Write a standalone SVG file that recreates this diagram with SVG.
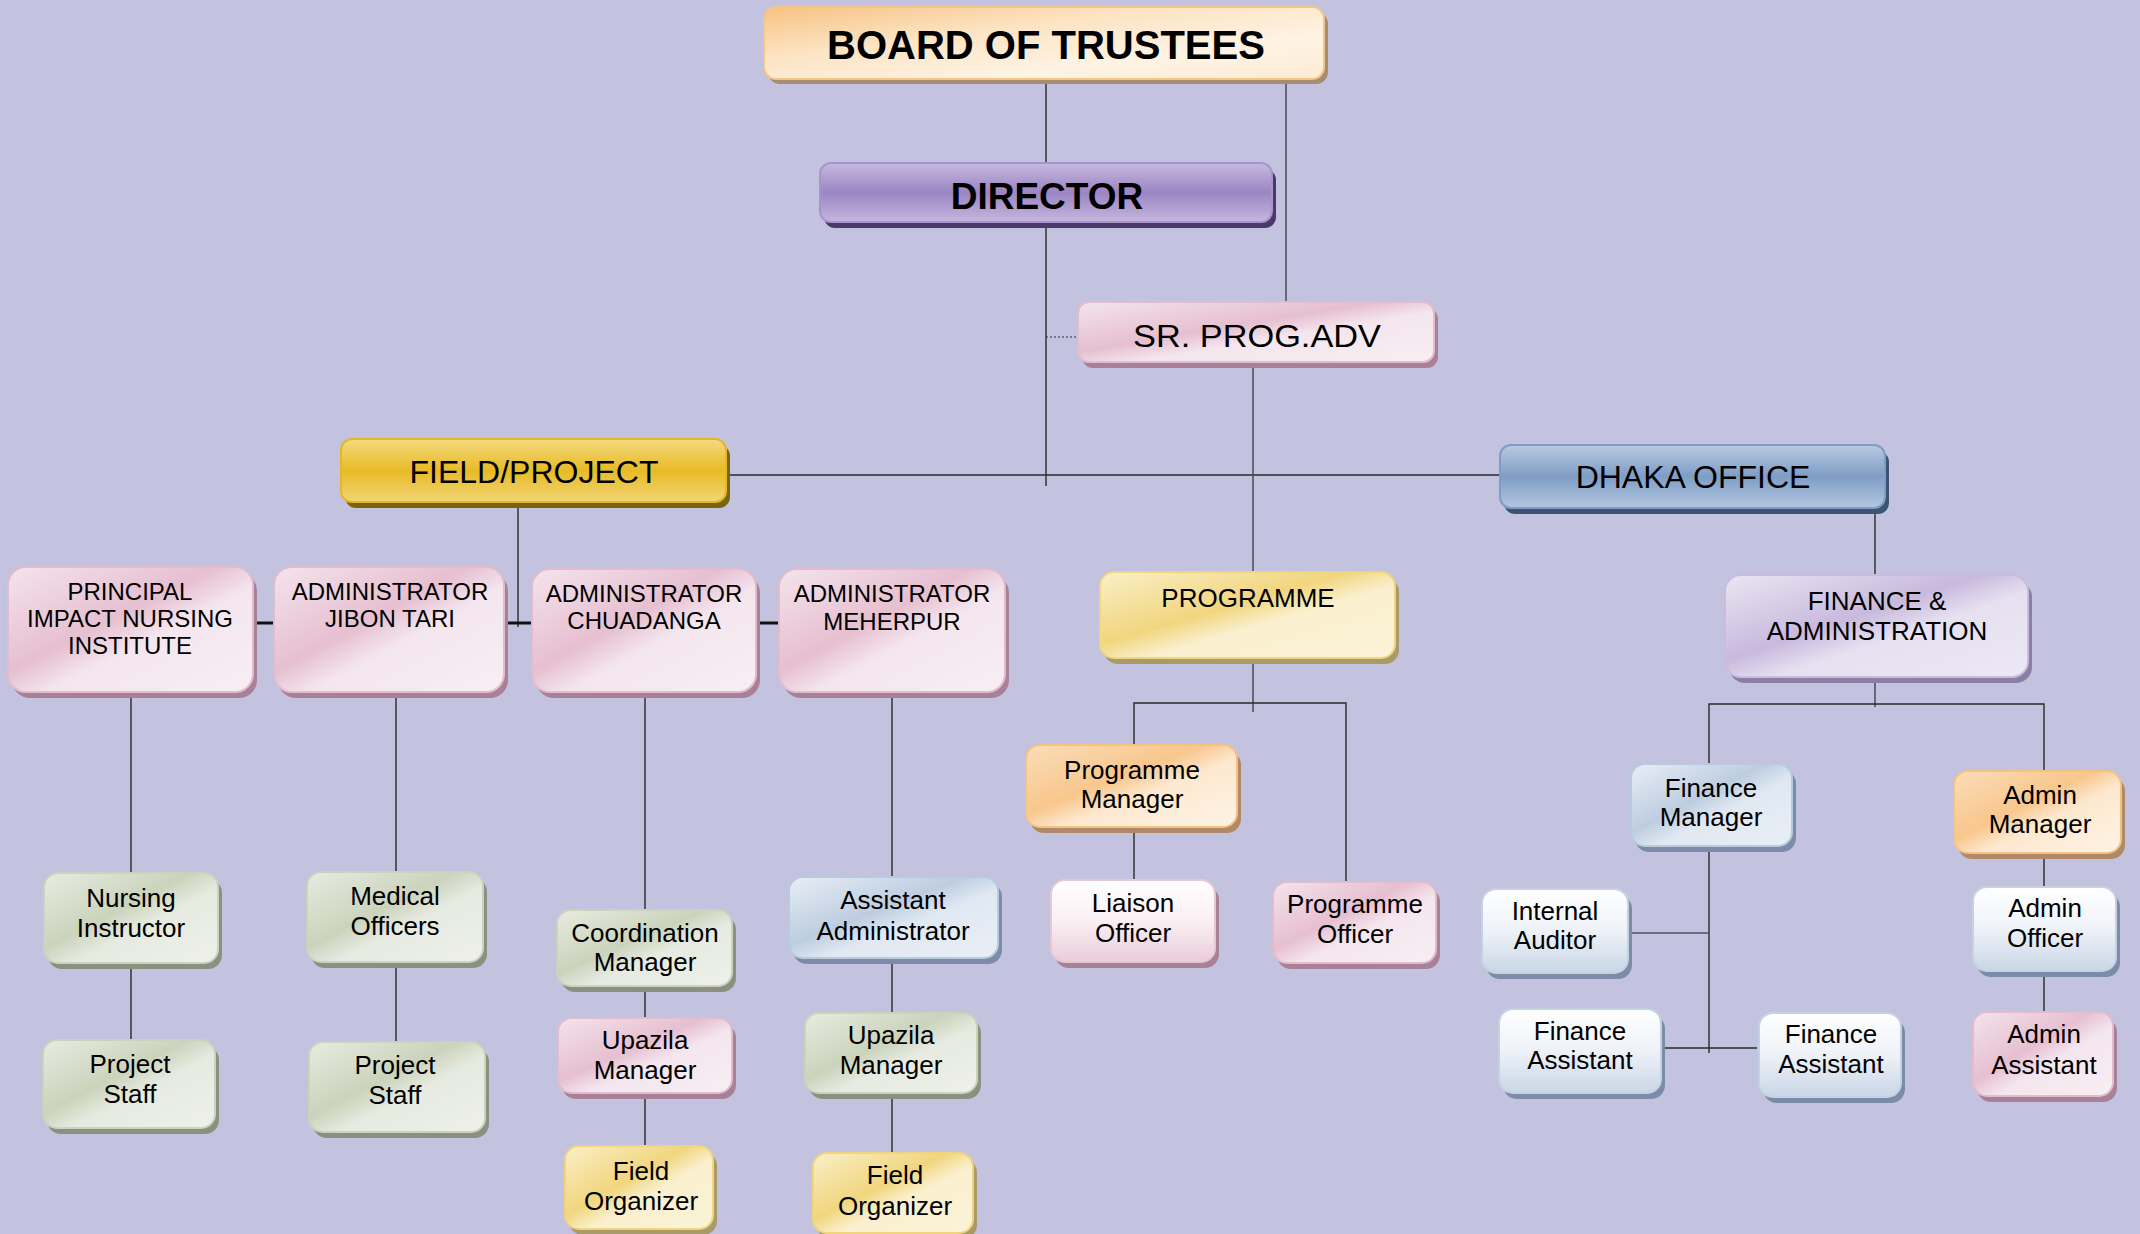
<svg xmlns="http://www.w3.org/2000/svg" width="2140" height="1234" viewBox="0 0 2140 1234">
<defs>
<linearGradient id="gBoard" x1="0" y1="0" x2="1" y2="1"><stop offset="0" stop-color="#F6C283"/><stop offset="0.35" stop-color="#FCE3C2"/><stop offset="0.7" stop-color="#FEF3E4"/><stop offset="1" stop-color="#FDEBD4"/></linearGradient>
<linearGradient id="gDir" x1="0" y1="0" x2="0" y2="1"><stop offset="0" stop-color="#C8B9DF"/><stop offset="0.5" stop-color="#9B85C3"/><stop offset="1" stop-color="#C6B6DE"/></linearGradient>
<linearGradient id="gField" x1="0" y1="0" x2="0" y2="1"><stop offset="0" stop-color="#F3DA80"/><stop offset="0.5" stop-color="#E8BA25"/><stop offset="1" stop-color="#F2D676"/></linearGradient>
<linearGradient id="gDhaka" x1="0" y1="0" x2="0" y2="1"><stop offset="0" stop-color="#B8CAE1"/><stop offset="0.5" stop-color="#7F9DC5"/><stop offset="1" stop-color="#B4C7E0"/></linearGradient>
<linearGradient id="gPink" x1="0" y1="0" x2="1" y2="1"><stop offset="0" stop-color="#F4E4EC"/><stop offset="0.42" stop-color="#E6BFD0"/><stop offset="0.58" stop-color="#F4E6EE"/><stop offset="1" stop-color="#F7EEF3"/></linearGradient>
<linearGradient id="gGreen" x1="0" y1="0" x2="1" y2="1"><stop offset="0" stop-color="#E8ECE0"/><stop offset="0.42" stop-color="#CBD3BC"/><stop offset="0.58" stop-color="#E6EAE0"/><stop offset="1" stop-color="#EFF1EA"/></linearGradient>
<linearGradient id="gBlue" x1="0" y1="0" x2="1" y2="1"><stop offset="0" stop-color="#E8EEF6"/><stop offset="0.42" stop-color="#BDCDE0"/><stop offset="0.58" stop-color="#E0E8F2"/><stop offset="1" stop-color="#E9EFF6"/></linearGradient>
<linearGradient id="gOrange" x1="0" y1="0" x2="1" y2="1"><stop offset="0" stop-color="#FBDDB8"/><stop offset="0.42" stop-color="#F8C78C"/><stop offset="0.58" stop-color="#FDE8CF"/><stop offset="1" stop-color="#FEF3E6"/></linearGradient>
<linearGradient id="gYellow" x1="0" y1="0" x2="1" y2="1"><stop offset="0" stop-color="#FAEFC8"/><stop offset="0.42" stop-color="#F1D67E"/><stop offset="0.58" stop-color="#FAF0CF"/><stop offset="1" stop-color="#FBF3D8"/></linearGradient>
<linearGradient id="gLav" x1="0" y1="0" x2="1" y2="1"><stop offset="0" stop-color="#EAE6F3"/><stop offset="0.42" stop-color="#C9B9DD"/><stop offset="0.58" stop-color="#E6E0F0"/><stop offset="1" stop-color="#ECE8F4"/></linearGradient>
<linearGradient id="gWPink" x1="0" y1="0" x2="0" y2="1"><stop offset="0" stop-color="#FFFFFF"/><stop offset="0.5" stop-color="#FAF0F4"/><stop offset="1" stop-color="#EACCD8"/></linearGradient>
<linearGradient id="gWBlue" x1="0" y1="0" x2="0" y2="1"><stop offset="0" stop-color="#FFFFFF"/><stop offset="0.5" stop-color="#EEF2F8"/><stop offset="1" stop-color="#C8D6E6"/></linearGradient>
</defs>
<style>
text{font-family:"Liberation Sans",Arial,sans-serif;fill:#000;text-anchor:middle}
.t40{font-size:40px;font-weight:bold}
.t37{font-size:37px;font-weight:bold}
.t32{font-size:32px}
.t24{font-size:24px}
.t26{font-size:26px}
.ln{stroke:#2a2a2a;stroke-width:1.4;fill:none}
.lg{stroke:#505060;stroke-width:1.6;fill:none}
.lt{stroke:#111;stroke-width:3;fill:none}
.dot{stroke:#333;stroke-width:1.2;stroke-dasharray:2 2;fill:none}
.board{fill:url(#gBoard);stroke:#F5C487;stroke-width:2}
.sboard{fill:#A88C70}
.dir{fill:url(#gDir);stroke:#A894CC;stroke-width:2}
.sdir{fill:#4A3A6C}
.field{fill:url(#gField);stroke:#E4B820;stroke-width:2}
.sfield{fill:#7A6412}
.dhaka{fill:url(#gDhaka);stroke:#7E9CC4;stroke-width:2}
.sdhaka{fill:#3C5474}
.pink{fill:url(#gPink);stroke:#E2BCCC;stroke-width:2}
.spink{fill:#A88098}
.green{fill:url(#gGreen);stroke:#CBD3BE;stroke-width:2}
.sgreen{fill:#8C9080}
.blue{fill:url(#gBlue);stroke:#B8CADE;stroke-width:2}
.sblue{fill:#7C8CA8}
.orange{fill:url(#gOrange);stroke:#F6C184;stroke-width:2}
.sorange{fill:#B08A68}
.yellow{fill:url(#gYellow);stroke:#F0D57C;stroke-width:2}
.syellow{fill:#A89A6A}
.lav{fill:url(#gLav);stroke:#CBBCDD;stroke-width:2}
.slav{fill:#8C7FA6}
.wpink{fill:url(#gWPink);stroke:#E6C8D4;stroke-width:2}
.wblue{fill:url(#gWBlue);stroke:#C4D2E2;stroke-width:2}
</style>
<rect x="0" y="0" width="2140" height="1234" fill="#C3C3E0"/>

<g id="connectors">
<path class="ln" d="M1046 82V163"/>
<path class="lg" d="M1286 82V302"/>
<path class="ln" d="M1046 227V486"/>
<path class="dot" d="M1046 337H1079"/>
<path class="ln" d="M730 475H1500"/>
<path class="lg" d="M1253 366V572"/>
<path class="ln" d="M518 506V627"/>
<path class="lt" d="M254 623H275"/>
<path class="lt" d="M506 623H533"/>
<path class="lt" d="M758 623H780"/>
<path class="ln" d="M131 692V873M131 963V1040"/>
<path class="ln" d="M396 692V872M396 962V1042"/>
<path class="ln" d="M645 692V910M645 986V1018M645 1093V1147"/>
<path class="ln" d="M892 692V877M892 958V1013M892 1093V1153"/>
<path class="lg" d="M1253 659V712"/>
<path class="ln" d="M1134 746V703H1346V882"/>
<path class="ln" d="M1134 828V880"/>
<path class="ln" d="M1875 508V575"/>
<path class="lg" d="M1875 677V707"/>
<path class="ln" d="M1709 764V704H2044V772"/>
<path class="ln" d="M1709 847V1053"/>
<path class="lg" d="M1631 933H1709"/>
<path class="ln" d="M1665 1048H1757"/>
<path class="ln" d="M2044 852V887M2044 970V1012"/>
</g>

<g id="board"><rect class="sboard" x="768" y="12" width="560" height="72" rx="12"/><rect class="board" x="764" y="7" width="560" height="72" rx="12"/><text class="t40" x="1046" y="59">BOARD OF TRUSTEES</text></g>
<g id="director"><rect class="sdir" x="824" y="169" width="452" height="59" rx="11"/><rect class="dir" x="820" y="163" width="452" height="59" rx="11"/><text class="t37" x="1047" y="209">DIRECTOR</text></g>
<g id="srprog"><rect class="spink" x="1082" y="308" width="356" height="60" rx="11"/><rect class="pink" x="1078" y="302" width="356" height="60" rx="11"/><text class="t32" x="1257" y="347" textLength="248" lengthAdjust="spacingAndGlyphs">SR. PROG.ADV</text></g>
<g id="field"><rect class="sfield" x="345" y="445" width="385" height="63" rx="11"/><rect class="field" x="341" y="439" width="385" height="63" rx="11"/><text class="t32" x="534" y="483">FIELD/PROJECT</text></g>
<g id="dhaka"><rect class="sdhaka" x="1504" y="451" width="385" height="63" rx="11"/><rect class="dhaka" x="1500" y="445" width="385" height="63" rx="11"/><text class="t32" x="1693" y="488">DHAKA OFFICE</text></g>
<g id="programme"><rect class="syellow" x="1104" y="578" width="295" height="86" rx="14"/><rect class="yellow" x="1100" y="572" width="295" height="86" rx="14"/><text class="t26" x="1248" y="607">PROGRAMME</text></g>
<g id="finadmin"><rect class="slav" x="1729" y="581" width="303" height="102" rx="16"/><rect class="lav" x="1725" y="575" width="303" height="102" rx="16"/><text class="t26" x="1877" y="610">FINANCE &amp;</text><text class="t26" x="1877" y="640">ADMINISTRATION</text></g>

<g id="principal"><rect class="spink" x="12" y="573" width="245" height="125" rx="18"/><rect class="pink" x="8" y="567" width="245" height="125" rx="18"/><text class="t24" x="130" y="600">PRINCIPAL</text><text class="t24" x="130" y="627">IMPACT NURSING</text><text class="t24" x="130" y="654">INSTITUTE</text></g>
<g id="jibontari"><rect class="spink" x="278" y="573" width="230" height="125" rx="18"/><rect class="pink" x="274" y="567" width="230" height="125" rx="18"/><text class="t24" x="390" y="600">ADMINISTRATOR</text><text class="t24" x="390" y="627">JIBON TARI</text></g>
<g id="chuadanga"><rect class="spink" x="536" y="575" width="224" height="123" rx="18"/><rect class="pink" x="532" y="569" width="224" height="123" rx="18"/><text class="t24" x="644" y="602">ADMINISTRATOR</text><text class="t24" x="644" y="629">CHUADANGA</text></g>
<g id="meherpur"><rect class="spink" x="783" y="575" width="226" height="123" rx="18"/><rect class="pink" x="779" y="569" width="226" height="123" rx="18"/><text class="t24" x="892" y="602">ADMINISTRATOR</text><text class="t24" x="892" y="630">MEHERPUR</text></g>

<g id="nursing"><rect class="sgreen" x="48" y="879" width="174" height="90" rx="14"/><rect class="green" x="44" y="873" width="174" height="90" rx="14"/><text class="t26" x="131" y="907">Nursing</text><text class="t26" x="131" y="937">Instructor</text></g>
<g id="pstaff1"><rect class="sgreen" x="47" y="1046" width="172" height="88" rx="14"/><rect class="green" x="43" y="1040" width="172" height="88" rx="14"/><text class="t26" x="130" y="1073">Project</text><text class="t26" x="130" y="1103">Staff</text></g>
<g id="medical"><rect class="sgreen" x="311" y="878" width="176" height="90" rx="14"/><rect class="green" x="307" y="872" width="176" height="90" rx="14"/><text class="t26" x="395" y="905">Medical</text><text class="t26" x="395" y="935">Officers</text></g>
<g id="pstaff2"><rect class="sgreen" x="313" y="1048" width="176" height="90" rx="14"/><rect class="green" x="309" y="1042" width="176" height="90" rx="14"/><text class="t26" x="395" y="1074">Project</text><text class="t26" x="395" y="1104">Staff</text></g>
<g id="coord"><rect class="sgreen" x="561" y="916" width="175" height="76" rx="14"/><rect class="green" x="557" y="910" width="175" height="76" rx="14"/><text class="t26" x="645" y="942">Coordination</text><text class="t26" x="645" y="971">Manager</text></g>
<g id="upazila1"><rect class="spink" x="562" y="1024" width="174" height="75" rx="14"/><rect class="pink" x="558" y="1018" width="174" height="75" rx="14"/><text class="t26" x="645" y="1049">Upazila</text><text class="t26" x="645" y="1079">Manager</text></g>
<g id="fieldorg1"><rect class="syellow" x="569" y="1152" width="148" height="83" rx="14"/><rect class="yellow" x="565" y="1146" width="148" height="83" rx="14"/><text class="t26" x="641" y="1180">Field</text><text class="t26" x="641" y="1210">Organizer</text></g>
<g id="asstadmin"><rect class="sblue" x="793" y="883" width="209" height="81" rx="14"/><rect class="blue" x="789" y="877" width="209" height="81" rx="14"/><text class="t26" x="893" y="909">Assistant</text><text class="t26" x="893" y="940">Administrator</text></g>
<g id="upazila2"><rect class="sgreen" x="809" y="1019" width="172" height="80" rx="14"/><rect class="green" x="805" y="1013" width="172" height="80" rx="14"/><text class="t26" x="891" y="1044">Upazila</text><text class="t26" x="891" y="1074">Manager</text></g>
<g id="fieldorg2"><rect class="syellow" x="817" y="1159" width="160" height="80" rx="14"/><rect class="yellow" x="813" y="1153" width="160" height="80" rx="14"/><text class="t26" x="895" y="1184">Field</text><text class="t26" x="895" y="1215">Organizer</text></g>

<g id="progmgr"><rect class="sorange" x="1030" y="751" width="211" height="82" rx="14"/><rect class="orange" x="1026" y="745" width="211" height="82" rx="14"/><text class="t26" x="1132" y="779">Programme</text><text class="t26" x="1132" y="808">Manager</text></g>
<g id="liaison"><rect class="spink" x="1055" y="886" width="164" height="82" rx="14"/><rect class="wpink" x="1051" y="880" width="164" height="82" rx="14"/><text class="t26" x="1133" y="912">Liaison</text><text class="t26" x="1133" y="942">Officer</text></g>
<g id="progofficer"><rect class="spink" x="1277" y="888" width="163" height="81" rx="14"/><rect class="pink" x="1273" y="882" width="163" height="81" rx="14"/><text class="t26" x="1355" y="913">Programme</text><text class="t26" x="1355" y="943">Officer</text></g>

<g id="finmgr"><rect class="sblue" x="1635" y="770" width="161" height="82" rx="14"/><rect class="blue" x="1631" y="764" width="161" height="82" rx="14"/><text class="t26" x="1711" y="797">Finance</text><text class="t26" x="1711" y="826">Manager</text></g>
<g id="adminmgr"><rect class="sorange" x="1958" y="777" width="167" height="82" rx="14"/><rect class="orange" x="1954" y="771" width="167" height="82" rx="14"/><text class="t26" x="2040" y="804">Admin</text><text class="t26" x="2040" y="833">Manager</text></g>
<g id="auditor"><rect class="sblue" x="1486" y="895" width="146" height="84" rx="14"/><rect class="wblue" x="1482" y="889" width="146" height="84" rx="14"/><text class="t26" x="1555" y="920">Internal</text><text class="t26" x="1555" y="949">Auditor</text></g>
<g id="finasst1"><rect class="sblue" x="1503" y="1015" width="162" height="84" rx="14"/><rect class="wblue" x="1499" y="1009" width="162" height="84" rx="14"/><text class="t26" x="1580" y="1040">Finance</text><text class="t26" x="1580" y="1069">Assistant</text></g>
<g id="finasst2"><rect class="sblue" x="1763" y="1019" width="142" height="84" rx="14"/><rect class="wblue" x="1759" y="1013" width="142" height="84" rx="14"/><text class="t26" x="1831" y="1043">Finance</text><text class="t26" x="1831" y="1073">Assistant</text></g>
<g id="adminofficer"><rect class="sblue" x="1977" y="893" width="143" height="84" rx="14"/><rect class="wblue" x="1973" y="887" width="143" height="84" rx="14"/><text class="t26" x="2045" y="917">Admin</text><text class="t26" x="2045" y="947">Officer</text></g>
<g id="adminasst"><rect class="spink" x="1977" y="1018" width="140" height="84" rx="14"/><rect class="pink" x="1973" y="1012" width="140" height="84" rx="14"/><text class="t26" x="2044" y="1043">Admin</text><text class="t26" x="2044" y="1074">Assistant</text></g>
</svg>
